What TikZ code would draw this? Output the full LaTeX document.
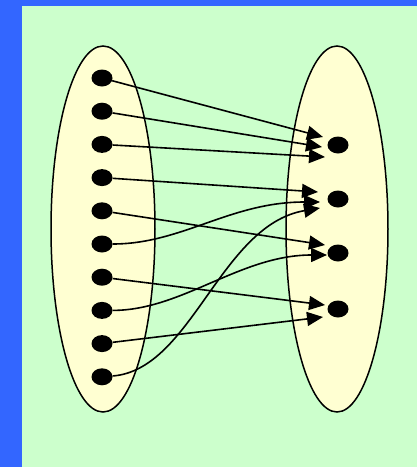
\documentclass[tikz,border=0pt]{standalone}
\usetikzlibrary{arrows.meta, shapes.geometric}
\definecolor{frameblue}{HTML}{3366FF}
\definecolor{panelgreen}{HTML}{CCFFCC}
\definecolor{setyellow}{HTML}{FFFFD2}
\tikzset{
  set/.style  = {draw, ellipse, fill=setyellow, line width=1.5pt, inner sep=0pt},
  elem/.style = {ellipse, fill=black, minimum width=21pt, minimum height=17pt, inner sep=0pt},
  map/.style  = {-{Triangle[length=16pt, width=14pt]}, line width=1.6pt},
}
\begin{document}
\begin{tikzpicture}[x=1pt, y=-1pt]

\useasboundingbox (0,0) rectangle (417,467);
\fill[frameblue] (0,0) rectangle (417,467);
\fill[panelgreen] (22,6) rectangle (417,467);

\node[set, minimum width=104pt, minimum height=366pt] (dom) at (103,229) {};
\node[set, minimum width=102pt, minimum height=366pt] (cod) at (337,229) {};

\foreach \i in {0,...,9}
  \node[elem] (l\i) at (102,{78+33.2*\i}) {};

\foreach \j/\y in {0/145, 1/199, 2/253, 3/309}
  \node[elem] (r\j) at (338,\y) {};

\foreach \x/\y/\dx/\dy in {l0/r0/-15/8, l1/r0/-16/-2, l2/r0/-13/-12,
                           l3/r1/-20/7, l4/r2/-13/8, l6/r3/-13/4, l8/r3/-15/-8}
  \draw[map] (\x) -- ([xshift=\dx pt, yshift=\dy pt]\y.center);

\draw[map] (l5) .. controls +(80,0) and +(-90,0) .. ([xshift=-18pt, yshift=-3pt]r1.center);
\draw[map] (l7) .. controls +(80,0) and +(-87,0) .. ([xshift=-11pt, yshift=-2pt]r2.center);
\draw[map] (l9) .. controls +(90,-7) and +(-100,17) .. ([xshift=-18pt, yshift=-9pt]r1.center);

\end{tikzpicture}
\end{document}
